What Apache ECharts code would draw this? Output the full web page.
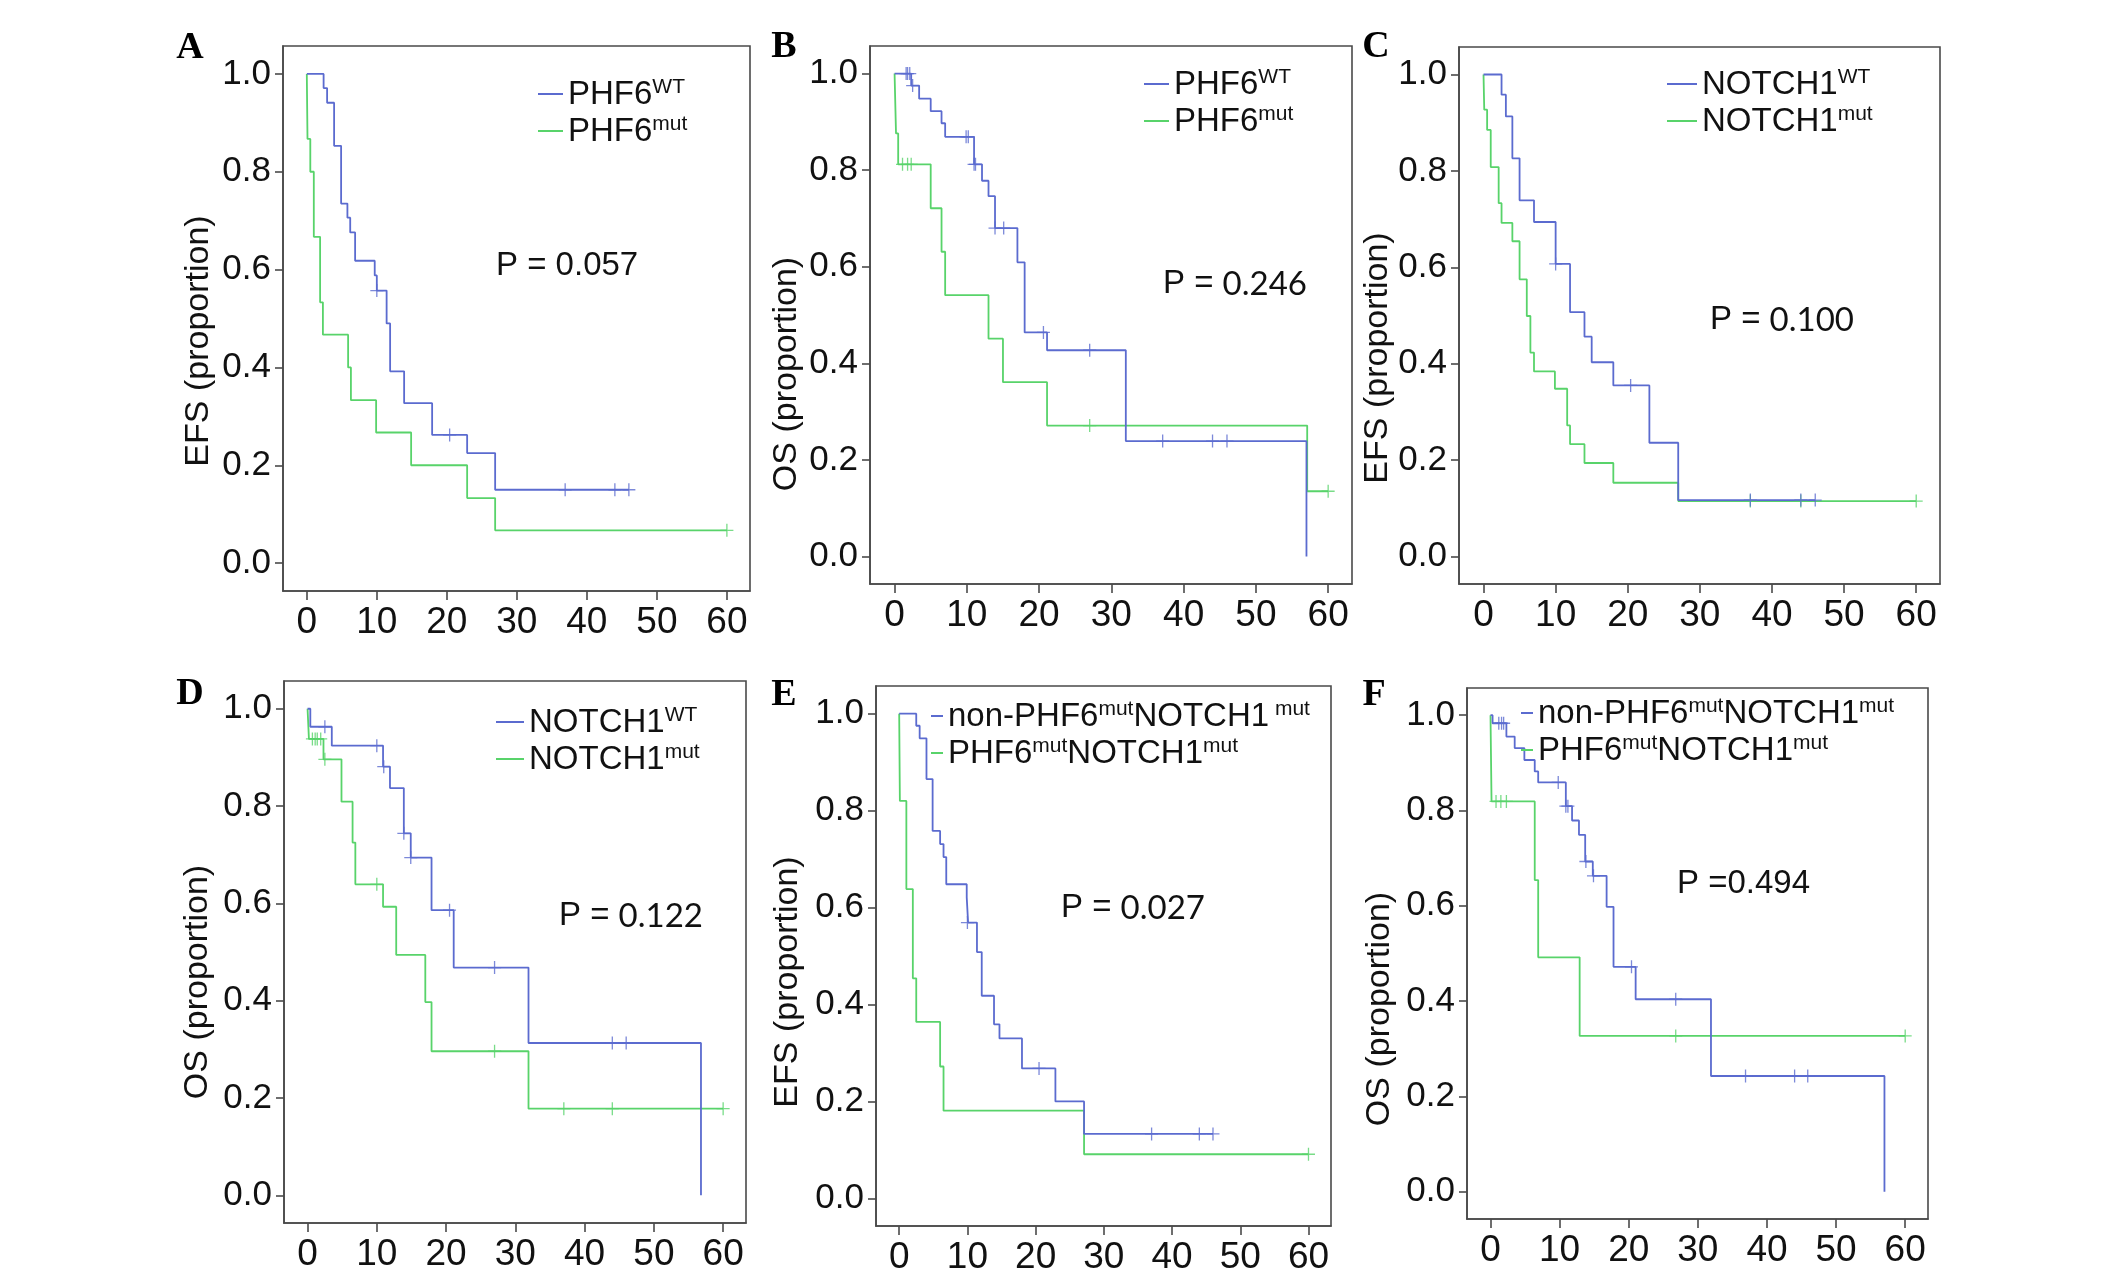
<!DOCTYPE html>
<html><head><meta charset="utf-8">
<script src="https://cdn.jsdelivr.net/npm/echarts@6/dist/echarts.min.js"></script>
<style>html,body{margin:0;padding:0;background:#fff}#c{width:2124px;height:1279px}</style>
</head><body><div id="c"></div>
<script>
// ---------------- data ----------------
const xTicks = [0, 10, 20, 30, 40, 50, 60];
const yTicks = [0, 0.2, 0.4, 0.6, 0.8, 1.0];
const panelLetters = ['A', 'B', 'C', 'D', 'E', 'F'];
const yTitles = ['EFS (proportion)', 'OS (proportion)', 'EFS (proportion)', 'OS (proportion)', 'EFS (proportion)', 'OS (proportion)'];
const pPrefix = ['P = ', 'P = ', 'P = ', 'P = ', 'P = ', 'P ='];
const pValues = ['0.057', '0.246', '0.100', '0.122', '0.027', '0.494'];
// legend labels: [normal, superscript, normal, superscript]
const legendWt = [['PHF6', 'WT'], ['PHF6', 'WT'], ['NOTCH1', 'WT'], ['NOTCH1', 'WT'], ['non-PHF6', 'mut', 'NOTCH1', ' mut'], ['non-PHF6', 'mut', 'NOTCH1', 'mut']];
const legendMut = [['PHF6', 'mut'], ['PHF6', 'mut'], ['NOTCH1', 'mut'], ['NOTCH1', 'mut'], ['PHF6', 'mut', 'NOTCH1', 'mut'], ['PHF6', 'mut', 'NOTCH1', 'mut']];

// Panel A (EFS, PHF6)
const aWtT = [0, 2.4, 2.9, 3.9, 4.9, 5.8, 6.2, 6.9, 9.7, 10.0, 11.4, 11.9, 13.9, 17.9, 22.9, 26.9, 46];
const aWtS = [1, 0.971, 0.941, 0.853, 0.735, 0.706, 0.676, 0.618, 0.588, 0.557, 0.49, 0.392, 0.327, 0.262, 0.225, 0.15, 0.15];
const aWtCT = [10.0, 20.4, 36.9, 44, 46];
const aWtCS = [0.557, 0.262, 0.15, 0.15, 0.15];
const aMutT = [0, 0.1, 0.5, 1.0, 1.9, 2.3, 5.9, 6.3, 9.9, 14.9, 22.9, 26.9, 60];
const aMutS = [1, 0.867, 0.8, 0.667, 0.533, 0.467, 0.4, 0.333, 0.267, 0.2, 0.133, 0.067, 0.067];
const aMutCT = [60];
const aMutCS = [0.067];

// Panel B (OS, PHF6)
const bWtT = [0, 2.3, 3.4, 5.0, 6.5, 7.0, 11.0, 12.1, 13.0, 13.9, 17.0, 18.0, 21.1, 32.0, 57.0];
const bWtS = [1, 0.975, 0.948, 0.922, 0.897, 0.869, 0.812, 0.778, 0.746, 0.68, 0.609, 0.464, 0.427, 0.239, 0];
const bWtCT = [1.6, 1.8, 2.1, 2.5, 9.9, 10.2, 11.0, 11.2, 13.9, 15.1, 20.6, 27.0, 37.1, 44.0, 46.0];
const bWtCS = [1, 1, 1, 0.975, 0.869, 0.869, 0.812, 0.812, 0.68, 0.68, 0.464, 0.427, 0.239, 0.239, 0.239];
const bMutT = [0, 0.2, 0.5, 5.0, 6.5, 7.0, 13.0, 15.0, 21.1, 57.1, 60];
const bMutS = [1, 0.876, 0.812, 0.721, 0.631, 0.541, 0.451, 0.361, 0.271, 0.135, 0.135];
const bMutCT = [1.1, 1.8, 2.3, 27.0, 60];
const bMutCS = [0.812, 0.812, 0.812, 0.271, 0.135];

// Panel C (EFS, NOTCH1)
const cWtT = [0, 2.5, 3.1, 4.0, 5.0, 7.0, 10.0, 12.0, 14.0, 15.0, 18.0, 23.0, 27.0, 46];
const cWtS = [1, 0.958, 0.913, 0.826, 0.739, 0.694, 0.607, 0.507, 0.456, 0.403, 0.355, 0.236, 0.117, 0.117];
const cWtCT = [10.0, 20.4, 37, 44, 46];
const cWtCS = [0.607, 0.355, 0.117, 0.117, 0.117];
const cMutT = [0, 0.1, 0.5, 1.0, 2.1, 2.5, 4.0, 5.0, 6.0, 6.5, 7.0, 9.9, 11.6, 12.0, 14.0, 18.0, 27.0, 60];
const cMutS = [1, 0.927, 0.885, 0.808, 0.733, 0.692, 0.654, 0.575, 0.499, 0.423, 0.384, 0.348, 0.272, 0.233, 0.194, 0.153, 0.115, 0.115];
const cMutCT = [37, 44, 60];
const cMutCS = [0.115, 0.115, 0.115];

// Panel D (OS, NOTCH1)
const dWtT = [0, 0.4, 3.5, 10.9, 11.9, 13.9, 14.9, 17.9, 21.1, 31.9, 56.8];
const dWtS = [1, 0.963, 0.924, 0.881, 0.837, 0.744, 0.694, 0.586, 0.468, 0.313, 0];
const dWtCT = [2.5, 10.0, 11.0, 13.9, 14.9, 20.5, 27, 44, 46];
const dWtCS = [0.963, 0.924, 0.881, 0.744, 0.694, 0.586, 0.468, 0.313, 0.313];
const dMutT = [0, 0.2, 2.3, 4.9, 6.5, 6.9, 10.9, 12.8, 17.0, 17.9, 31.9, 60];
const dMutS = [1, 0.938, 0.896, 0.809, 0.725, 0.639, 0.593, 0.494, 0.397, 0.296, 0.178, 0.178];
const dMutCT = [0.7, 1.1, 1.4, 1.9, 2.5, 10, 27, 37, 44, 60];
const dMutCS = [0.938, 0.938, 0.938, 0.938, 0.896, 0.639, 0.296, 0.178, 0.178, 0.178];

// Panel E (EFS, combined)
const eWtT = [0, 2.5, 3.0, 4.0, 4.9, 6.0, 6.5, 6.9, 9.9, 10.1, 11.4, 12.1, 13.9, 14.7, 18.0, 22.9, 27.1, 46];
const eWtS = [1, 0.975, 0.949, 0.865, 0.758, 0.731, 0.704, 0.648, 0.621, 0.569, 0.508, 0.418, 0.359, 0.330, 0.268, 0.2, 0.133, 0.133];
const eWtCT = [10, 20.5, 37, 44, 46];
const eWtCS = [0.569, 0.268, 0.133, 0.133, 0.133];
const eMutT = [0, 0.1, 1.05, 2.0, 2.5, 6.0, 6.5, 27.1, 60];
const eMutS = [1, 0.82, 0.638, 0.454, 0.364, 0.272, 0.181, 0.091, 0.091];
const eMutCT = [60];
const eMutCS = [0.091];

// Panel F (OS, combined)
const fWtT = [0, 0.3, 2.3, 3.5, 4.9, 6.4, 6.9, 10.9, 11.8, 12.8, 13.7, 14.8, 16.8, 17.8, 21.0, 31.9, 57.0];
const fWtS = [1, 0.983, 0.955, 0.931, 0.906, 0.882, 0.859, 0.809, 0.779, 0.749, 0.693, 0.663, 0.598, 0.472, 0.404, 0.243, 0];
const fWtCT = [1.2, 1.6, 1.9, 9.8, 10.9, 11.2, 13.8, 14.9, 20.4, 26.8, 36.9, 44, 45.9];
const fWtCS = [0.983, 0.983, 0.983, 0.859, 0.809, 0.809, 0.693, 0.663, 0.472, 0.404, 0.243, 0.243, 0.243];
const fMutT = [0, 0.15, 6.4, 6.9, 12.9, 60];
const fMutS = [1, 0.819, 0.654, 0.492, 0.327, 0.327];
const fMutCT = [0.8, 1.5, 2.3, 26.8, 60];
const fMutCS = [0.819, 0.819, 0.819, 0.327, 0.327];

const curves = [
  [aWtT, aWtS, aWtCT, aWtCS, aMutT, aMutS, aMutCT, aMutCS],
  [bWtT, bWtS, bWtCT, bWtCS, bMutT, bMutS, bMutCT, bMutCS],
  [cWtT, cWtS, cWtCT, cWtCS, cMutT, cMutS, cMutCT, cMutCS],
  [dWtT, dWtS, dWtCT, dWtCS, dMutT, dMutS, dMutCT, dMutCS],
  [eWtT, eWtS, eWtCT, eWtCS, eMutT, eMutS, eMutCT, eMutCS],
  [fWtT, fWtS, fWtCT, fWtCS, fMutT, fMutS, fMutCT, fMutCS]
];

// ---------------- layout / style ----------------
const BLUE = '#5b6bcf';
const GREEN = '#58d36a';
const AXIS = '#4a4a4a';
const SANS = '"Liberation Sans", Arial, sans-serif';
const layout = [
  { grid: [283, 46, 467, 545], letter: [190, 48], yt: [199, 341], p: [496, 266], leg: [538, 77], legW: 25, pNum: SANS },
  { grid: [870, 46, 482, 538], letter: [784, 47], yt: [787, 374], p: [1163, 284], leg: [1144, 67], legW: 25, pNum: 'Lato, "Open Sans", sans-serif' },
  { grid: [1459, 47, 481, 537], letter: [1376, 47], yt: [1378, 358], p: [1710, 320], leg: [1667, 67], legW: 30, pNum: 'Lato, "Open Sans", sans-serif' },
  { grid: [284, 681, 462, 542], letter: [190, 694], yt: [198, 982], p: [559, 916], leg: [496, 705], legW: 28, pNum: 'Lato, "Open Sans", sans-serif' },
  { grid: [876, 686, 455, 540], letter: [784, 695], yt: [788, 982], p: [1061, 908], leg: [931, 699], legW: 12, pNum: 'Lato, "Open Sans", sans-serif' },
  { grid: [1467, 688, 461, 531], letter: [1374, 695], yt: [1380, 1009], p: [1677, 884], leg: [1521, 696], legW: 12, pNum: SANS }
];
const plusPath = 'path://M-0.1,-1h0.2v0.9h0.9v0.2h-0.9v0.9h-0.2v-0.9h-0.9v-0.2h0.9z';

function richLabel(parts) {
  let s = '';
  parts.forEach((p, i) => { s += (i % 2 === 0 ? '{m|' : '{s|') + p + '}'; });
  return s;
}
const legendRich = {
  m: { fontFamily: SANS, fontSize: 33, color: '#111', lineHeight: 34, verticalAlign: 'bottom' },
  s: { fontFamily: SANS, fontSize: 21, color: '#111', lineHeight: 34, verticalAlign: 'top' }
};

const grids = [], xAxes = [], yAxes = [], series = [], legends = [], graphics = [];
const labelMap = {};
layout.forEach((L, i) => {
  const [gl, gt, gw, gh] = L.grid;
  grids.push({ left: gl, top: gt, width: gw, height: gh, show: true, borderColor: AXIS, borderWidth: 1.6, backgroundColor: 'transparent' });
  xAxes.push({
    type: 'value', gridIndex: i, min: -3.4, max: 63.3, position: 'bottom',
    axisLine: { show: true, onZero: false, lineStyle: { color: AXIS, width: 1.6 } }, splitLine: { show: false },
    axisTick: { show: true, length: 9, customValues: xTicks, lineStyle: { color: AXIS, width: 1.6 } },
    axisLabel: { customValues: xTicks, fontFamily: SANS, fontSize: 37, color: '#111', margin: 13 }
  });
  yAxes.push({
    type: 'value', gridIndex: i, min: -0.057, max: 1.057, position: 'left',
    axisLine: { show: true, onZero: false, lineStyle: { color: AXIS, width: 1.6 } }, splitLine: { show: false },
    axisTick: { show: true, length: 8, customValues: yTicks, lineStyle: { color: AXIS, width: 1.6 } },
    axisLabel: { customValues: yTicks, fontFamily: SANS, fontSize: 35, color: '#111', margin: 12, formatter: v => v.toFixed(1) }
  });
  const c = curves[i];
  const nWt = panelLetters[i] + '_wt', nMut = panelLetters[i] + '_mut';
  labelMap[nWt] = richLabel(legendWt[i]);
  labelMap[nMut] = richLabel(legendMut[i]);
  const mk = (T, S) => T.map((t, k) => [t, S[k]]);
  series.push({ name: nMut, type: 'line', step: 'end', xAxisIndex: i, yAxisIndex: i, data: mk(c[4], c[5]), symbol: 'none', color: GREEN, lineStyle: { color: GREEN, width: 1.8 }, animation: false, z: 2 });
  series.push({ name: nWt, type: 'line', step: 'end', xAxisIndex: i, yAxisIndex: i, data: mk(c[0], c[1]), symbol: 'none', color: BLUE, lineStyle: { color: BLUE, width: 1.8 }, animation: false, z: 3 });
  series.push({ type: 'scatter', xAxisIndex: i, yAxisIndex: i, data: mk(c[6], c[7]), symbol: plusPath, symbolSize: 13, itemStyle: { color: GREEN }, animation: false, z: 4 });
  series.push({ type: 'scatter', xAxisIndex: i, yAxisIndex: i, data: mk(c[2], c[3]), symbol: plusPath, symbolSize: 13, itemStyle: { color: BLUE }, animation: false, z: 5 });
  legends.push({
    left: L.leg[0], top: L.leg[1], orient: 'vertical', padding: 0, itemGap: 3,
    itemWidth: L.legW, itemHeight: 2, icon: 'rect', selectedMode: false,
    data: [nWt, nMut],
    formatter: name => labelMap[name],
    textStyle: { rich: legendRich }
  });
  graphics.push({ type: 'text', x: L.letter[0], y: L.letter[1], style: { text: panelLetters[i], fontFamily: '"Liberation Serif", "Times New Roman", serif', fontWeight: 'bold', fontSize: 38, fill: '#000', textAlign: 'center', textVerticalAlign: 'middle' } });
  graphics.push({ type: 'text', x: L.yt[0], y: L.yt[1], rotation: Math.PI / 2, style: { text: yTitles[i], fontFamily: SANS, fontSize: 34, fill: '#111', textAlign: 'center', textVerticalAlign: 'middle' } });
  graphics.push({ type: 'text', x: L.p[0], y: L.p[1], style: {
    text: '{a|' + pPrefix[i] + '}{b|' + pValues[i] + '}', textAlign: 'left', textVerticalAlign: 'middle',
    rich: { a: { fontFamily: SANS, fontSize: 33, fill: '#111', color: '#111' }, b: { fontFamily: L.pNum, fontSize: 33, fill: '#111', color: '#111' } }
  } });
});

const chart = echarts.init(document.getElementById('c'));
chart.setOption({
  animation: false,
  backgroundColor: '#fff',
  grid: grids, xAxis: xAxes, yAxis: yAxes, series: series, legend: legends,
  graphic: graphics
});
</script></body></html>
